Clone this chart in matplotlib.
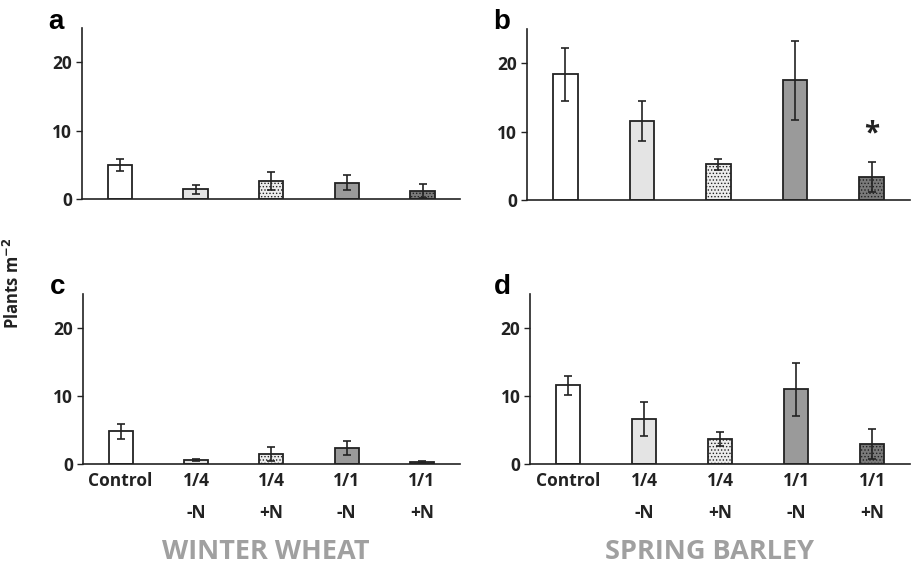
import matplotlib
matplotlib.use("Agg")
import matplotlib.pyplot as plt

plt.rcParams['font.family'] = ['Open Sans', 'DejaVu Sans']
plt.rcParams['hatch.linewidth'] = 0.6

# treatments
categories = ['Control', '1/4\n-N', '1/4\n+N', '1/1\n-N', '1/1\n+N']

# plants per m2 (mean, error)
wheat_a = [5.0, 1.4, 2.6, 2.4, 1.2]
wheat_a_err = [0.9, 0.6, 1.3, 1.1, 1.0]
barley_b = [18.4, 11.6, 5.2, 17.5, 3.4]
barley_b_err = [3.9, 2.9, 0.8, 5.8, 2.2]
wheat_c = [4.8, 0.6, 1.5, 2.4, 0.3]
wheat_c_err = [1.1, 0.15, 1.0, 1.05, 0.1]
barley_d = [11.6, 6.6, 3.7, 11.0, 3.0]
barley_d_err = [1.4, 2.5, 1.0, 3.9, 2.2]

face = ['white', '#e4e4e4', '#ececec', '#9a9a9a', '#7a7a7a']
hatch = [None, None, '.....', None, '.....']
INK = '#222222'

fig = plt.figure(figsize=(9.14, 5.66), dpi=100)

boxes = {
    'a': [0.0897, 0.6484, 0.414, 0.302],
    'b': [0.5766, 0.6466, 0.419, 0.302],
    'c': [0.0908, 0.1802, 0.412, 0.300],
    'd': [0.5800, 0.1802, 0.416, 0.300],
}
data = {
    'a': (wheat_a, wheat_a_err),
    'b': (barley_b, barley_b_err),
    'c': (wheat_c, wheat_c_err),
    'd': (barley_d, barley_d_err),
}

axes = {}
for key, box in boxes.items():
    ax = fig.add_axes(box)
    vals, errs = data[key]
    x = list(range(len(categories)))
    bars = ax.bar(x, vals, width=0.32, color=face, edgecolor=INK, linewidth=1.3, zorder=2)
    for b, h in zip(bars, hatch):
        if h:
            b.set_hatch(h)
    ax.errorbar(x, vals, yerr=errs, fmt='none', ecolor=INK, elinewidth=1.2,
                capsize=3, capthick=1.2, zorder=3)
    ax.set_xlim(-0.5, 4.5)
    ax.set_ylim(0, 25)
    ax.set_yticks([0, 10, 20])
    for s in ['top', 'right']:
        ax.spines[s].set_visible(False)
    ax.spines['left'].set_color(INK)
    ax.spines['bottom'].set_color(INK)
    ax.spines['left'].set_linewidth(1.2)
    ax.spines['bottom'].set_linewidth(1.2)
    ax.tick_params(axis='y', length=4, width=1, color=INK, labelsize=12.5,
                   labelcolor=INK, pad=3)
    for t in ax.get_yticklabels():
        t.set_fontweight('bold')
    if key in ('c', 'd'):
        ax.set_xticks(x)
        ax.set_xticklabels(categories, fontsize=12.5, fontweight='bold',
                           color=INK, linespacing=1.95, va='top')
        ax.tick_params(axis='x', length=0, pad=6)
    else:
        ax.set_xticks([])
    axes[key] = ax

axes['b'].text(4, 9.6, '*', ha='center', va='center', fontsize=20,
               fontweight='bold', color=INK)

# panel letters
fig.text(0.053, 0.948, 'a', fontsize=20, fontweight='bold', family='Liberation Sans')
fig.text(0.540, 0.948, 'b', fontsize=20, fontweight='bold', family='Liberation Sans')
fig.text(0.055, 0.48, 'c', fontsize=20, fontweight='bold', family='Liberation Sans')
fig.text(0.540, 0.48, 'd', fontsize=20, fontweight='bold', family='Liberation Sans')

fig.text(0.014, 0.5, 'Plants m$^{\\mathbf{-2}}$', rotation=90, ha='center', va='center',
         fontsize=12, fontweight='bold', color=INK)

fig.text(0.291, 0.012, 'WINTER WHEAT', ha='center', va='baseline', fontsize=19.5,
         fontweight='bold', color='#a0a0a0')
fig.text(0.776, 0.012, 'SPRING BARLEY', ha='center', va='baseline', fontsize=19.5,
         fontweight='bold', color='#a0a0a0')

fig.savefig('out.png', dpi=100)
